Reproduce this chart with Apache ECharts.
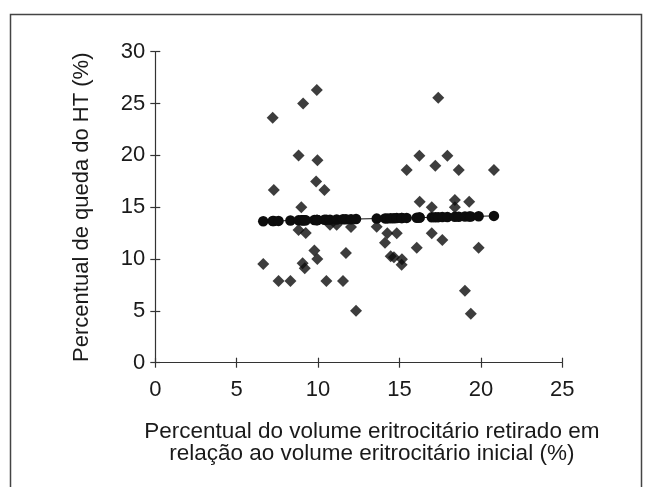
<!DOCTYPE html>
<html>
<head>
<meta charset="utf-8">
<script src="https://cdn.jsdelivr.net/npm/echarts@6/dist/echarts.min.js"></script>
<style>
html,body{margin:0;padding:0;background:#fff;}
#chart{width:649px;height:487px;}
</style>
</head>
<body>
<div id="chart"></div>
<script>
// Observed points: x = % of erythrocyte volume withdrawn, y = % drop in HT
const obsX = [6.63, 7.21, 7.28, 7.57, 8.30, 8.80, 8.97, 9.08, 8.80, 9.24, 9.05, 9.18, 9.77, 9.92, 9.96, 9.88, 9.95, 10.39, 10.51, 11.53, 11.71, 12.33, 12.02, 10.73, 11.14,
              13.60, 14.11, 14.25, 14.83, 14.46, 14.66, 15.15, 15.13, 15.44, 16.06, 16.22, 16.24, 16.98, 16.98, 17.20, 17.38, 17.63, 17.94, 18.40, 18.40, 18.64, 19.02, 19.28, 19.38, 19.86, 20.80];
const obsY = [9.53, 23.63, 16.67, 7.87, 7.87, 19.98, 15.0, 25.0, 12.8, 12.5, 9.6, 9.1, 10.82, 26.3, 19.52, 17.47, 10.0, 16.66, 7.87, 7.87, 10.57, 5.02, 13.08, 13.3, 13.3,
              13.12, 11.58, 12.48, 12.48, 10.28, 10.16, 9.97, 9.45, 18.59, 11.09, 19.97, 15.53, 15.0, 12.48, 19.0, 25.56, 11.84, 19.97, 15.7, 15.0, 18.59, 6.95, 15.53, 4.72, 11.09, 18.59];
// Fitted (predicted) values drawn as circles on the trend line
const fitX = [6.63, 7.21, 7.28, 7.57, 8.30, 8.80, 8.97, 9.05, 9.08, 9.18, 9.24, 9.77, 9.88, 9.92, 9.95, 9.96, 10.39, 10.51, 10.73, 11.14, 11.53, 11.71, 12.02, 12.33,
              13.60, 14.11, 14.25, 14.46, 14.66, 14.83, 15.13, 15.15, 15.44, 16.06, 16.22, 16.24, 16.98, 17.20, 17.38, 17.63, 17.94, 18.40, 18.64, 19.02, 19.28, 19.38, 19.86, 20.80];
const fitY = [13.65, 13.67, 13.67, 13.68, 13.71, 13.73, 13.73, 13.74, 13.74, 13.74, 13.74, 13.76, 13.77, 13.77, 13.77, 13.77, 13.79, 13.79, 13.80, 13.81, 13.83, 13.83, 13.84, 13.86,
              13.90, 13.92, 13.92, 13.93, 13.94, 13.95, 13.96, 13.96, 13.97, 13.99, 14.00, 14.00, 14.02, 14.03, 14.04, 14.05, 14.06, 14.07, 14.08, 14.10, 14.11, 14.11, 14.13, 14.16];
const xTicks = [0, 5, 10, 15, 20, 25];
const yTicks = [0, 5, 10, 15, 20, 25, 30];
const xTitle = 'Percentual do volume eritrocitário retirado em\nrelação ao volume eritrocitário inicial (%)';
const yTitle = 'Percentual de queda do HT (%)';

const FONT = 'Liberation Sans, Arial, sans-serif';
const INK = '#1a1a1a';
const MARK = '#0d0d0d';
const chart = echarts.init(document.getElementById('chart'), null, {renderer: 'canvas'});
const axisLineStyle = {color: '#333', width: 1.2};
chart.setOption({
  animation: false,
  backgroundColor: '#fff',
  graphic: [{
    type: 'rect',
    shape: {x: 10.5, y: 14.5, width: 631, height: 500},
    style: {fill: 'none', stroke: '#444', lineWidth: 1.5},
    silent: true
  }],
  grid: {left: 155.3, right: 86.7, top: 51.7, bottom: 124.3, containLabel: false},
  xAxis: [{
    type: 'value', min: xTicks[0], max: xTicks[xTicks.length - 1], interval: 5,
    splitLine: {show: false},
    axisLine: {show: true, onZero: false, lineStyle: axisLineStyle},
    axisTick: {show: true, inside: false, length: 5, lineStyle: axisLineStyle},
    axisLabel: {color: INK, fontFamily: FONT, fontSize: 22, margin: 16},
    name: xTitle, nameLocation: 'middle', nameGap: 58,
    nameTextStyle: {color: INK, fontFamily: FONT, fontSize: 22.5, lineHeight: 22, align: 'center', padding: [0, 0, 0, 26]}
  }, {
    type: 'value', min: xTicks[0], max: xTicks[xTicks.length - 1], interval: 5, position: 'bottom',
    splitLine: {show: false}, axisLine: {show: false},
    axisTick: {show: true, inside: true, length: 5, lineStyle: axisLineStyle},
    axisLabel: {show: false}
  }],
  yAxis: [{
    type: 'value', min: yTicks[0], max: yTicks[yTicks.length - 1], interval: 5,
    splitLine: {show: false},
    axisLine: {show: true, onZero: false, lineStyle: axisLineStyle},
    axisTick: {show: true, inside: false, length: 5, lineStyle: axisLineStyle},
    axisLabel: {color: INK, fontFamily: FONT, fontSize: 22, margin: 10, padding: [12, 0, 0, 0]},
    name: yTitle, nameLocation: 'middle', nameGap: 62, nameRotate: 90,
    nameTextStyle: {color: INK, fontFamily: FONT, fontSize: 22}
  }, {
    type: 'value', min: yTicks[0], max: yTicks[yTicks.length - 1], interval: 5, position: 'left',
    splitLine: {show: false}, axisLine: {show: false},
    axisTick: {show: true, inside: true, length: 5, lineStyle: axisLineStyle},
    axisLabel: {show: false}
  }],
  series: [{
    type: 'line',
    data: fitX.map((x, i) => [x, fitY[i]]),
    symbol: 'circle', symbolSize: 10.5, showSymbol: true,
    itemStyle: {color: MARK},
    lineStyle: {color: MARK, width: 1},
    z: 3
  }, {
    type: 'scatter',
    data: obsX.map((x, i) => [x, obsY[i]]),
    symbol: 'diamond', symbolSize: [12, 12],
    itemStyle: {color: MARK},
    z: 4
  }]
});
</script>
</body>
</html>
